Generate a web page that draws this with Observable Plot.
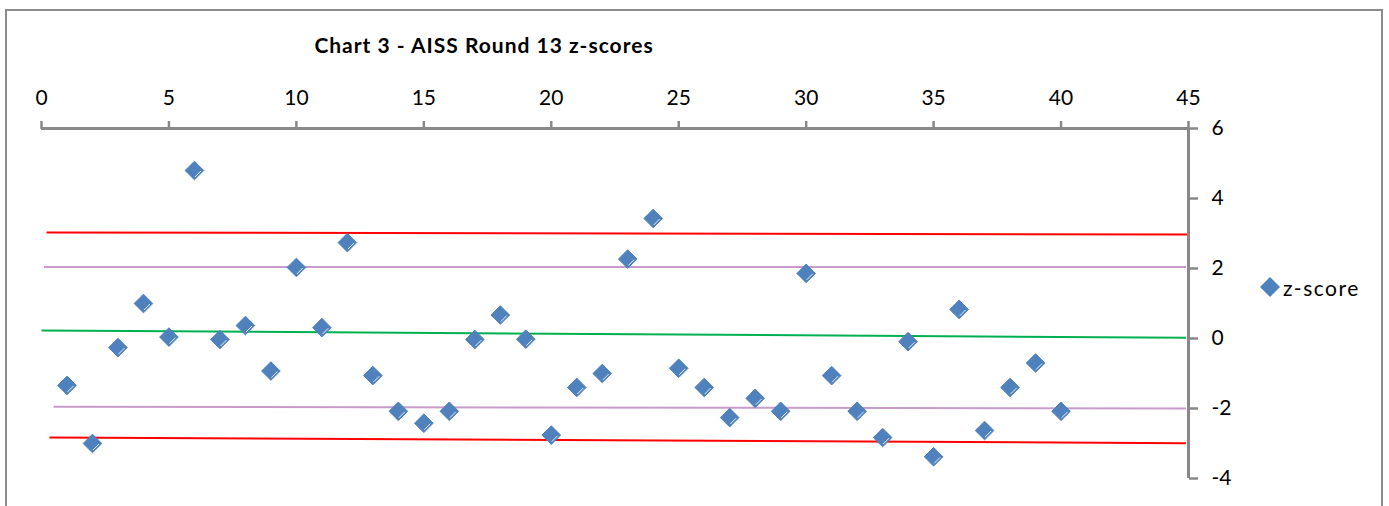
<!DOCTYPE html>
<html>
<head>
<meta charset="utf-8">
<script src="https://cdn.jsdelivr.net/npm/d3@7"></script>
<script src="https://cdn.jsdelivr.net/npm/@observablehq/plot@0.6"></script>
<style>
  body { margin: 0; background: #fff; }
  #wrap { position: relative; width: 1389px; height: 506px; overflow: hidden;
          font-family: Lato, "Open Sans", sans-serif; color: #000; }
  #border { position: absolute; left: 5px; top: 9px; width: 1378px; height: 620px;
            border: 2px solid #8c8c8c; box-sizing: border-box; }
  #title { position: absolute; left: 484px; top: 32px; transform: translateX(-50%);
           white-space: nowrap; font-weight: bold; font-size: 21px; letter-spacing: 1px; line-height: 26px; }
  #legend { position: absolute; left: 1259px; top: 275px; height: 24px; display: flex; align-items: center; }
  #legend .sw { width: 22px; height: 22px; }
  #legend .lb { font-size: 21px; letter-spacing: 1.5px; margin-left: 2px; }
  #chart { position: absolute; left: 0; top: 0; }
</style>
</head>
<body>
<div id="wrap">
  <div id="border"></div>
  <div id="chart"></div>
  <div id="title"></div>
  <div id="legend"></div>
</div>
<script>
// ---- data ----
const titleText = "Chart 3 - AISS Round 13 z-scores";
const seriesName = "z-score";
const participant = [1,2,3,4,5,6,7,8,9,10,11,12,13,14,15,16,17,18,19,20,
                     21,22,23,24,25,26,27,28,29,30,31,32,33,34,35,36,37,38,39,40];
const zscore = [-1.34,-3.0,-0.26,1.0,0.04,4.8,-0.03,0.37,-0.93,2.03,
                0.31,2.74,-1.06,-2.08,-2.42,-2.08,-0.03,0.67,-0.02,-2.76,
                -1.4,-1.0,2.27,3.43,-0.85,-1.4,-2.26,-1.71,-2.08,1.86,
                -1.06,-2.08,-2.83,-0.09,-3.38,0.83,-2.63,-1.4,-0.7,-2.08];
const xTicks = [0,5,10,15,20,25,30,35,40,45];
const yTicks = [-4,-2,0,2,4,6];
// control lines (start / end points)
const limitX1 = [0.2, 0.1, 0.0, 0.47, 0.31];
const limitX2 = [45, 44.9, 44.9, 44.9, 44.9];
const limitY1 = [3.03, 2.04, 0.23, -1.95, -2.83];
const limitY2 = [2.97, 2.04, 0.02, -2.0, -2.99];
const limitColor = ["#FF0000", "#C99BCB", "#00B050", "#C99BCB", "#FF0000"];
const markerColor = "#4F81BD";
const axisColor = "#888888";

// ---- tables built from the arrays ----
const points = participant.map((p, i) => ({x: p, y: zscore[i]}));
const limits = limitX1.map((x1, i) => ({x1, x2: limitX2[i], y1: limitY1[i], y2: limitY2[i], c: limitColor[i]}));

// small white highlight stroke drawn on each diamond (as in the original rendering)
const highlight = {
  draw(context) {
    context.moveTo(0.5, 6.5);
    context.lineTo(6.5, 0.5);
  }
};

const plot = Plot.plot({
  width: 1389,
  height: 506,
  marginLeft: 41,
  marginRight: 201,
  marginTop: 128,
  marginBottom: 28,
  style: {fontFamily: 'Lato, "Open Sans", sans-serif', fontSize: "21px", color: "#000", background: "transparent", overflow: "visible"},
  x: {domain: [0, 45]},
  y: {domain: [-4, 6]},
  color: {type: "identity"},
  marks: [
    Plot.link(limits, {x1: "x1", y1: "y1", x2: "x2", y2: "y2", stroke: "c", strokeWidth: 2}),
    Plot.ruleY([6], {stroke: axisColor, strokeWidth: 3}),
    Plot.ruleX([45], {stroke: axisColor, strokeWidth: 3}),
    Plot.axisX(xTicks, {anchor: "top", tickSize: 8, tickPadding: 16, stroke: axisColor, strokeWidth: 2.5,
                        fill: "#000", label: null, tickFormat: d => String(d)}),
    Plot.axisY(yTicks, {anchor: "right", tickSize: 9, tickPadding: 14, stroke: axisColor, strokeWidth: 2.5,
                        fill: "#000", label: null, tickFormat: d => String(d)}),
    Plot.dot(points, {x: "x", y: "y", symbol: "diamond2", r: 8.4, fill: markerColor, stroke: markerColor, strokeWidth: 1}),
    Plot.dot(points, {x: "x", y: "y", symbol: highlight, r: 8, fill: "none", stroke: "#ffffff", strokeWidth: 1, strokeOpacity: 0.85})
  ]
});
document.getElementById("chart").appendChild(plot);

document.getElementById("title").textContent = titleText;
const lg = document.getElementById("legend");
lg.innerHTML = `<svg class="sw" viewBox="-11 -11 22 22"><path d="M0,-10L10,0L0,10L-10,0Z" fill="${markerColor}"/></svg><span class="lb"></span>`;
lg.querySelector(".lb").textContent = seriesName;
</script>
</body>
</html>
